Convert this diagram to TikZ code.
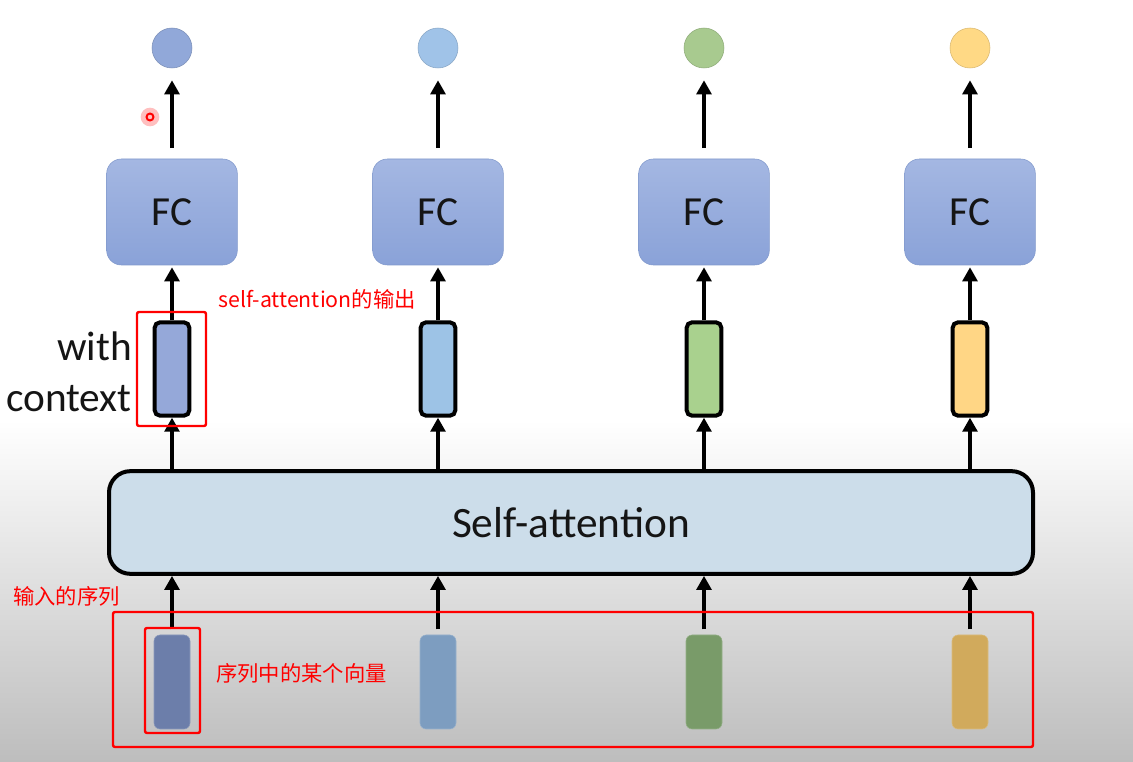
\documentclass[tikz,border=0pt]{standalone}
\usepackage{fontspec}
\setmainfont{Carlito}
\newfontfamily\cjk{Noto Sans CJK SC}
\usetikzlibrary{arrows.meta}

\definecolor{outA}{HTML}{91A8D9}
\definecolor{outB}{HTML}{A0C3E8}
\definecolor{outC}{HTML}{A8CA8F}
\definecolor{outD}{HTML}{FFD985}
\definecolor{ctxA}{HTML}{95A8D9}
\definecolor{ctxB}{HTML}{9DC3E6}
\definecolor{ctxC}{HTML}{A9D18E}
\definecolor{ctxD}{HTML}{FFD685}
\definecolor{inA}{HTML}{6C7EAA}
\definecolor{inB}{HTML}{7D9DC0}
\definecolor{inC}{HTML}{799B69}
\definecolor{inD}{HTML}{D1AA5C}
\definecolor{fctop}{HTML}{A4B7E2}
\definecolor{fcbot}{HTML}{8AA2D8}
\definecolor{fcline}{HTML}{8199CC}
\definecolor{saFill}{HTML}{CCDDEA}
\definecolor{bgbot}{HTML}{BDBDBD}
\definecolor{ink}{HTML}{151515}

\begin{document}
\begin{tikzpicture}[x=0.75pt,y=-0.75pt,
  every node/.style={font=\fontsize{31}{38}\selectfont,text=ink},
  flow/.style={-{Triangle[width=11pt,length=10.5pt]},line width=3pt},
  fcbox/.style={draw=fcline,top color=fctop,bottom color=fcbot,rounded corners=11pt,
    minimum width=98pt,minimum height=79.5pt},
  outdot/.style={circle,minimum size=30pt,inner sep=0pt},
  ctxvec/.style={draw=black,line width=3pt,rounded corners=4pt,
    minimum width=26pt,minimum height=70pt,inner sep=0pt},
  invec/.style={rounded corners=4.5pt,minimum width=27pt,minimum height=70.5pt,inner sep=0pt},
  note/.style={text=red,font=\cjk\fontsize{16}{19}\selectfont,anchor=west,inner sep=0pt},
  redframe/.style={red,line width=1.8pt,rounded corners=1.5pt}]
  \useasboundingbox (0,0) rectangle (1133,762);

  % Background
  \fill[white] (0,0) rectangle (1133,762);
  \shade[top color=white,bottom color=bgbot] (0,420) rectangle (1133,762);

  % Self-attention layer
  \node[draw=black,line width=3pt,fill=saFill,rounded corners=16pt,
    minimum width=693pt,minimum height=77pt,font=\fontsize{32.5}{38}\selectfont] (sa) at (571,522.5) {Self-attention};

  % Columns: output, FC, vector with context, input vector
  \foreach \n/\x/\co/\cc/\ci in {1/172/outA/ctxA/inA, 2/438/outB/ctxB/inB,
                                 3/704/outC/ctxC/inC, 4/970/outD/ctxD/inD}{
    \node[outdot,fill=\co,draw=\co!85!black] (out\n) at (\x,48) {};
    \node[fcbox] (fc\n) at (\x,212) {FC};
    \node[ctxvec,fill=\cc] (ctx\n) at (\x,369) {};
    \node[invec,fill=\ci,draw=\ci!80!white] (in\n) at (\x,682) {};
    \draw[flow,shorten <=8pt,shorten >=9pt] (fc\n) -- (out\n);
    \draw[flow,shorten >=1.5pt] (ctx\n) -- (fc\n);
    \draw[flow] (sa.north -| ctx\n) -- (ctx\n);
    \draw[flow,shorten <=4pt] (in\n) -- (sa.south -| in\n);
  }

  \node[align=right,anchor=east,inner sep=0pt] (ctxlabel) at (132,372) {with\\context};

  % Pointer
  \fill[red,opacity=0.25] (150,117) circle (7pt);
  \draw[red,line width=1.5pt] (150,117) circle (2.6pt);

  % Annotations
  \draw[redframe] (137,312) rectangle (206,426);
  \draw[redframe] (113,612) rectangle (1033,747);
  \draw[redframe] (145,628) rectangle (200,733);
  \node[note] (outnote) at (218,299) {self-attention的输出};
  \node[note] (seqnote) at (13,596) {输入的序列};
  \node[note] (vecnote) at (216,673) {序列中的某个向量};

\end{tikzpicture}
\end{document}
